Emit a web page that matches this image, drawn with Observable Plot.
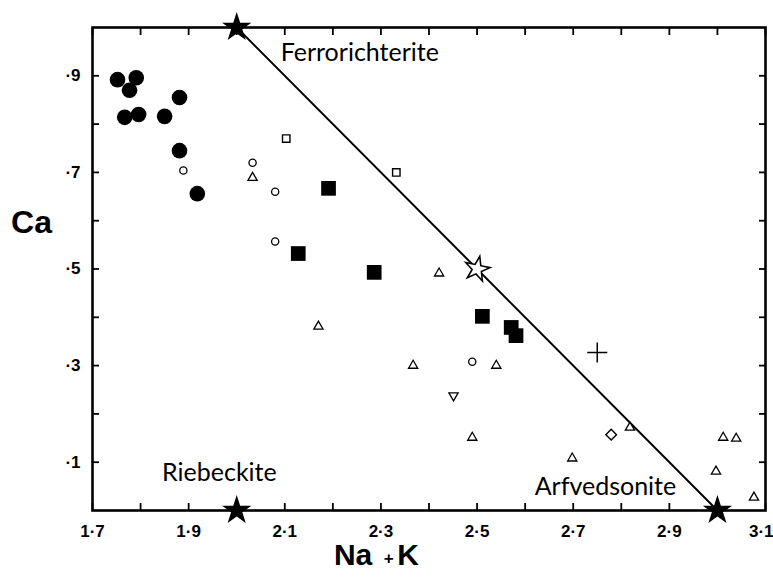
<!DOCTYPE html>
<html>
<head>
<meta charset="utf-8">
<script src="https://cdn.jsdelivr.net/npm/d3@7"></script>
<script src="https://cdn.jsdelivr.net/npm/@observablehq/plot@0.6"></script>
<style>
  html, body { margin: 0; padding: 0; background: #fff; }
</style>
</head>
<body>
<div id="chart"></div>
<script>
// ---- data (Na+K, Ca) ----
const filledCircles = [[1.752,0.892],[1.791,0.896],[1.777,0.870],[1.767,0.814],[1.796,0.820],[1.850,0.816],[1.881,0.855],[1.881,0.745],[1.918,0.656]];
const openCircles = [[1.889,0.704],[2.033,0.720],[2.080,0.660],[2.080,0.557],[2.490,0.308]];
const openTriangles = [[2.033,0.689],[2.170,0.381],[2.367,0.300],[2.540,0.300],[2.490,0.151],[2.421,0.491],[2.698,0.108],[2.818,0.172],[3.012,0.151],[3.039,0.149],[2.997,0.081],[3.076,0.027]];
const invertedTriangles = [[2.451,0.238]];
const openSquares = [[2.103,0.770],[2.332,0.700]];
const filledSquares = [[2.191,0.667],[2.128,0.532],[2.286,0.493],[2.511,0.402],[2.571,0.379],[2.581,0.362]];
const diamonds = [[2.779,0.157]];
const plusses = [[2.750,0.327]];
const endMemberStars = [[2.0,1.0],[2.0,0.0],[3.0,0.0]];
const openStars = [[2.5,0.5]];
const tieLine = [[2.0,1.0],[3.0,0.0]];

const labelNames = ["Ferrorichterite","Riebeckite","Arfvedsonite"];
const labelX = [2.256, 1.964, 2.767];
const labelY = [0.948, 0.077, 0.048];

const xTicks = [1.7,1.8,1.9,2.0,2.1,2.2,2.3,2.4,2.5,2.6,2.7,2.8,2.9,3.0,3.1];
const xLabelTicks = [1.7,1.9,2.1,2.3,2.5,2.7,2.9];
const xLastLabelTick = [3.1];
const yTicks = [0.1,0.2,0.3,0.4,0.5,0.6,0.7,0.8,0.9];
const yLabelTicks = [0.1,0.3,0.5,0.7,0.9];

const labels = labelNames.map((name, i) => ({name, x: labelX[i], y: labelY[i]}));
const fmt = d => d.toFixed(1).replace(".", "\u00B7").replace(/^0/, "");
const blank = () => "";

const plot = Plot.plot({
  width: 773,
  height: 579,
  marginLeft: 92,
  marginRight: 8,
  marginTop: 27,
  marginBottom: 69,
  style: {background: "#fff", color: "#000", fontFamily: "'Liberation Sans', Arial, sans-serif"},
  x: {domain: [1.7, 3.1]},
  y: {domain: [0, 1.0]},
  marks: [
    // inward ticks on all four sides
    Plot.axisX({ticks: xTicks, anchor: "bottom", tickSize: -7, tickFormat: blank, strokeWidth: 1.8, label: null}),
    Plot.axisX({ticks: xTicks, anchor: "top", tickSize: -7, tickFormat: blank, strokeWidth: 1.8, label: null}),
    Plot.axisY({ticks: yTicks, anchor: "left", tickSize: -7, tickFormat: blank, strokeWidth: 1.8, label: null}),
    Plot.axisY({ticks: yTicks, anchor: "right", tickSize: -7, tickFormat: blank, strokeWidth: 1.8, label: null}),
    // tick labels
    Plot.axisX({ticks: xLabelTicks, anchor: "bottom", tickSize: 0, tickPadding: 14, tickFormat: fmt, fontSize: 17, fontWeight: "bold", label: null}),
    Plot.axisX({ticks: xLastLabelTick, anchor: "bottom", tickSize: 0, tickPadding: 14, tickFormat: fmt, fontSize: 17, fontWeight: "bold", textAnchor: "end", dx: 8, label: null}),
    Plot.axisY({ticks: yLabelTicks, anchor: "left", tickSize: 0, tickPadding: 12, tickFormat: fmt, fontSize: 17, fontWeight: "bold", label: null}),
    Plot.frame({stroke: "#000", strokeWidth: 2.6}),
    // tie line
    Plot.line(tieLine, {x: d => d[0], y: d => d[1], stroke: "#000", strokeWidth: 2}),
    // data symbols
    Plot.dot(filledCircles, {x: d => d[0], y: d => d[1], r: 7.8, fill: "#000", stroke: "none"}),
    Plot.dot(openCircles, {x: d => d[0], y: d => d[1], r: 3.6, fill: "#fff", stroke: "#000", strokeWidth: 1.3}),
    Plot.dot(openTriangles, {x: d => d[0], y: d => d[1], symbol: "triangle2", r: 4.4, fill: "#fff", stroke: "#000", strokeWidth: 1.3}),
    Plot.dot(invertedTriangles, {x: d => d[0], y: d => d[1], symbol: "triangle2", rotate: 180, r: 4.4, fill: "#fff", stroke: "#000", strokeWidth: 1.3}),
    Plot.dot(openSquares, {x: d => d[0], y: d => d[1], symbol: "square", r: 4.2, fill: "#fff", stroke: "#000", strokeWidth: 1.4}),
    Plot.dot(filledSquares, {x: d => d[0], y: d => d[1], symbol: "square", r: 8.3, fill: "#000", stroke: "none"}),
    Plot.dot(diamonds, {x: d => d[0], y: d => d[1], symbol: "diamond2", r: 4.8, fill: "#fff", stroke: "#000", strokeWidth: 1.4}),
    Plot.dot(plusses, {x: d => d[0], y: d => d[1], symbol: "plus", r: 6.5, fill: "none", stroke: "#000", strokeWidth: 1.5}),
    Plot.dot(openStars, {x: d => d[0], y: d => d[1], symbol: "star", r: 7.8, rotate: 12, fill: "#fff", stroke: "#000", strokeWidth: 1.6}),
    Plot.dot(endMemberStars, {x: d => d[0], y: d => d[1], symbol: "star", r: 9.2, fill: "#000", stroke: "none"}),
    // end-member labels
    Plot.text(labels, {x: "x", y: "y", text: "name", textAnchor: "middle", lineAnchor: "middle", fontSize: 25, fontFamily: "Lato, 'Open Sans', sans-serif", fill: "#000"}),
    // axis titles
    Plot.text(["Ca"], {frameAnchor: "left", dx: -61, dy: -46, textAnchor: "middle", fontSize: 32, fontWeight: "bold", fill: "#000"}),
    Plot.text(["Na"], {x: [2.282], frameAnchor: "bottom", dy: 54, textAnchor: "end", fontSize: 30, fontWeight: "bold", fill: "#000"}),
    Plot.text(["+"], {x: [2.316], frameAnchor: "bottom", dy: 53, textAnchor: "middle", fontSize: 17, fontWeight: "bold", fill: "#000"}),
    Plot.text(["K"], {x: [2.334], frameAnchor: "bottom", dy: 54, textAnchor: "start", fontSize: 30, fontWeight: "bold", fill: "#000"})
  ]
});
document.getElementById("chart").appendChild(plot);
</script>
</body>
</html>
